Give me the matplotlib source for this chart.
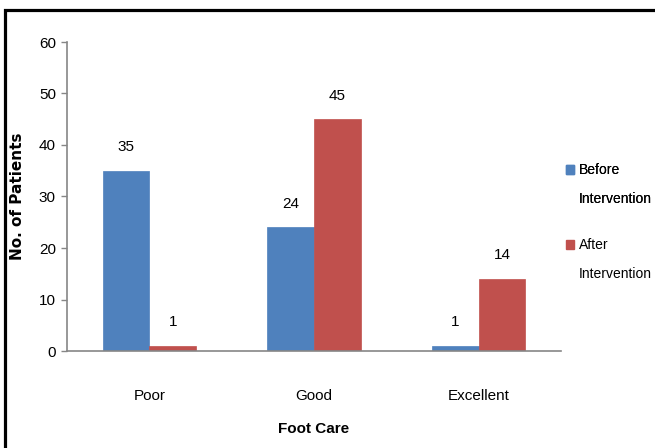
import matplotlib
matplotlib.use("Agg")
import matplotlib.pyplot as plt
from matplotlib.patches import Rectangle, Patch
import numpy as np

categories = ["Poor", "Good", "Excellent"]
before = [35, 24, 1]
after = [1, 45, 14]
yticks = [0, 10, 20, 30, 40, 50, 60]

plt.rcParams['font.family'] = ['Liberation Sans', 'DejaVu Sans']

BLUE = "#4F81BD"
RED = "#C0504D"
GRAY = "#868686"

fig = plt.figure(figsize=(6.55, 4.48), dpi=100)
ax = fig.add_axes([67/655, 1-351/448, (561-67)/655, (351-42)/448])

x = np.arange(len(categories))
w = 0.283
b1 = ax.bar(x - w/2, before, w, color=BLUE, edgecolor=BLUE, linewidth=0.5)
b2 = ax.bar(x + w/2, after, w, color=RED, edgecolor=RED, linewidth=0.5)

for bars, vals in ((b1, before), (b2, after)):
    for r, v in zip(bars, vals):
        ax.annotate(str(v), (r.get_x() + r.get_width()/2, v), xytext=(0, 17),
                    textcoords="offset points", ha="center", va="center", fontsize=11)

ax.set_xlim(-0.5, 2.5)
ax.set_ylim(0, 60)
ax.set_yticks(yticks)
ax.set_yticklabels([str(t) for t in yticks], fontsize=11)
ax.set_xticks(x)
ax.set_xticklabels(categories, fontsize=11)
ax.tick_params(axis="x", length=0, pad=27)
ax.tick_params(axis="y", length=4, color=GRAY, width=1, pad=4)
for s in ("top", "right"):
    ax.spines[s].set_visible(False)
for s in ("left", "bottom"):
    ax.spines[s].set_color(GRAY)
    ax.spines[s].set_linewidth(1.2)

ax.set_ylabel("No. of Patients", fontsize=11, fontweight="bold", family="DejaVu Sans", labelpad=10)
ax.set_xlabel("Foot Care", fontsize=11, fontweight="bold", labelpad=14)

leg_kw = dict(loc="upper left", frameon=False, fontsize=10, handlelength=0.6,
              handleheight=0.6, handletextpad=0.3, labelspacing=1.1, borderpad=0,
              borderaxespad=0)
l1 = fig.legend([Patch(color=BLUE), Patch(alpha=0)], ["Before", "Intervention"],
                bbox_to_anchor=(566/655, 1-163/448), **leg_kw)
fig.add_artist(l1)
l2 = fig.legend([Patch(color=RED), Patch(alpha=0)], ["After", "Intervention"],
                bbox_to_anchor=(566/655, 1-238/448), **leg_kw)

fig.patches.append(Rectangle((5/655, -0.1), 1.2, (448-10.5)/448 + 0.1, transform=fig.transFigure,
                             fill=False, edgecolor="black", linewidth=2.3))

fig.savefig("out.png", dpi=100)
